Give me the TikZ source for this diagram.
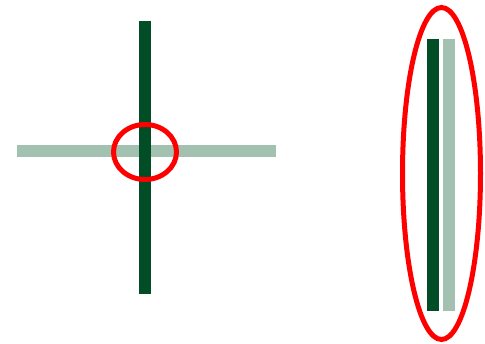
\documentclass[tikz,border=0pt]{standalone}
\usepackage{xcolor}
\usepackage{tikz}

\definecolor{bardark}{RGB}{0,77,38}
\definecolor{barlight}{RGB}{163,193,176}
\definecolor{ringred}{RGB}{255,0,0}

\tikzset{
	darkbar/.style={draw=bardark, line width=12pt, line cap=butt},
	lightbar/.style={draw=barlight, line width=12pt, line cap=butt},
	redring/.style={draw=ringred, line width=5pt}
}

\begin{document}
\begin{tikzpicture}[x=1pt, y=-1pt]
	\useasboundingbox (0, 0) rectangle (485, 344);
	% Crossing bars:
	\coordinate (hleft) at (17, 151);
	\coordinate (hright) at (276, 151);
	\coordinate (vtop) at (145, 21);
	\coordinate (vbottom) at (145, 294);
	\draw[lightbar] (hleft) -- (hright);
	\draw[darkbar] (vtop) -- (vbottom);
	\draw[redring] (145, 152) ellipse [x radius=31.5, y radius=27.5];
	% Parallel bars:
	\coordinate (dtop) at (433, 39);
	\coordinate (dbottom) at (433, 311);
	\coordinate (ltop) at (449, 39);
	\coordinate (lbottom) at (449, 311);
	\draw[darkbar] (dtop) -- (dbottom);
	\draw[lightbar] (ltop) -- (lbottom);
	\draw[redring] (441.5, 173.5) ellipse [x radius=39, y radius=166];
\end{tikzpicture}
\end{document}
